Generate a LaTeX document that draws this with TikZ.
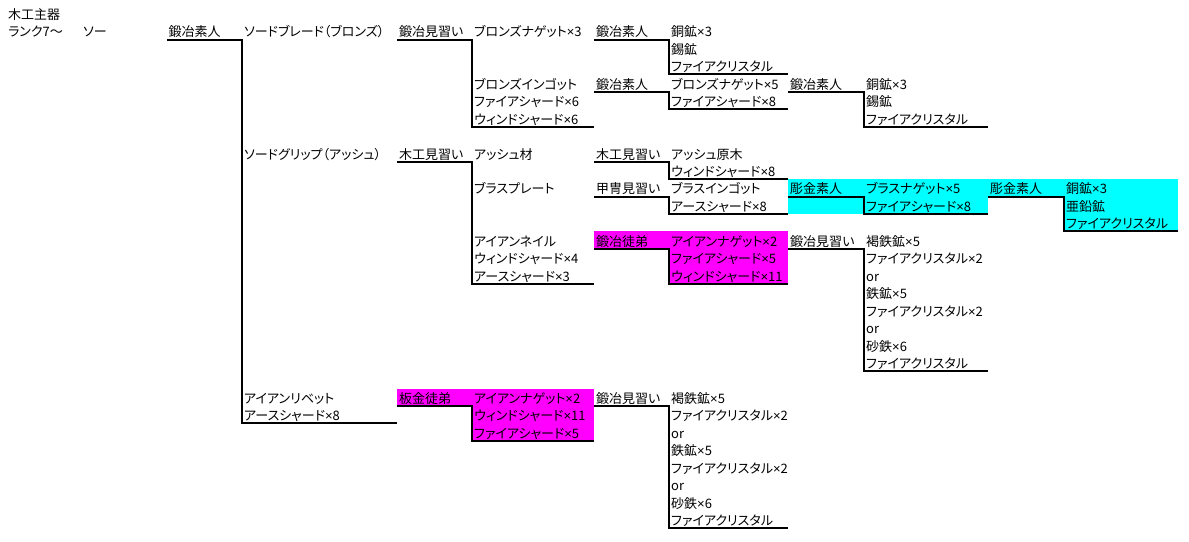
\documentclass[tikz,border=0pt]{standalone}
\usepackage{fontspec}
\setmainfont{Noto Sans CJK JP}[RawFeature={+palt}]
\newfontfamily\latinfont{Liberation Sans}
\newcommand\tms{{\latinfont ×}}
\definecolor{cellcyan}{HTML}{00FFFF}
\definecolor{cellmagenta}{HTML}{FF00FF}
\def\colA{6}\def\colB{81}\def\colC{166.5}\def\colD{242}\def\colE{397}\def\colF{472}
\def\colG{594}\def\colH{669}\def\colI{788}\def\colJ{864}\def\colK{988}\def\colL{1064}\def\colM{1178}
% bottom of spreadsheet row #1 : 39.5+(#1-2)*17.45
\newcommand\cellnode[4]{\node[txt] (#1) at ({#2+2},{39.5+(#3-2)*17.45-2.6}) {#4};}
\newcommand\bracketline[5]{\draw[conn] ({#1},{39.5+(#2-2)*17.45}) -- ({#3},{39.5+(#2-2)*17.45}) -- ({#3},{39.5+(#4-2)*17.45}) -- ({#5},{39.5+(#4-2)*17.45});}
\newcommand\cellfill[5]{\fill[#1] ({#2},{39.5+(#3-3)*17.45}) rectangle ({#4},{39.5+(#5-2)*17.45});}
\begin{document}
\begin{tikzpicture}[x=1pt,y=-1pt,
  txt/.style={anchor=base west,inner sep=0pt,font=\fontsize{13}{15}\selectfont},
  conn/.style={line width=2pt,line join=miter,line cap=butt}]
\useasboundingbox[fill=white] (0,0) rectangle (1189,541);
% fills
\cellfill{cellcyan}{\colI}{11}{\colK}{12}
\cellfill{cellcyan}{\colK}{11}{\colM}{11}
\cellfill{cellcyan}{\colL}{12}{\colM}{13}
\cellfill{cellmagenta}{\colG}{14}{\colI}{14}
\cellfill{cellmagenta}{\colH}{15}{\colI}{16}
\cellfill{cellmagenta}{\colE}{23}{\colG}{23}
\cellfill{cellmagenta}{\colF}{24}{\colG}{25}
% connectors
\bracketline{\colC}{2}{\colD}{24}{\colE}
\bracketline{\colE}{2}{\colF}{7}{\colG}
\bracketline{\colG}{2}{\colH}{4}{\colI}
\bracketline{\colG}{5}{\colH}{6}{\colI}
\bracketline{\colI}{5}{\colJ}{7}{\colK}
\bracketline{\colE}{9}{\colF}{16}{\colG}
\bracketline{\colG}{9}{\colH}{10}{\colI}
\bracketline{\colG}{11}{\colH}{12}{\colI}
\bracketline{\colI}{11}{\colJ}{12}{\colK}
\bracketline{\colK}{11}{\colL}{13}{\colM}
\bracketline{\colG}{14}{\colH}{16}{\colI}
\bracketline{\colI}{14}{\colJ}{21}{\colK}
\bracketline{\colE}{23}{\colF}{25}{\colG}
\bracketline{\colG}{23}{\colH}{30}{\colI}
% texts
\cellnode{a1}{\colA}{1}{木工主器}
\cellnode{a2}{\colA}{2}{ランク7～}
\cellnode{b2}{\colB}{2}{ソー}
\cellnode{c2}{\colC}{2}{鍛冶素人}
\cellnode{d2}{\colD}{2}{ソードブレード（ブロンズ）}
\cellnode{e2}{\colE}{2}{鍛冶見習い}
\cellnode{f2}{\colF}{2}{ブロンズナゲット\tms 3}
\cellnode{g2}{\colG}{2}{鍛冶素人}
\cellnode{h2}{\colH}{2}{銅鉱\tms 3}
\cellnode{h3}{\colH}{3}{錫鉱}
\cellnode{h4}{\colH}{4}{ファイアクリスタル}
\cellnode{f5}{\colF}{5}{ブロンズインゴット}
\cellnode{g5}{\colG}{5}{鍛冶素人}
\cellnode{h5}{\colH}{5}{ブロンズナゲット\tms 5}
\cellnode{i5}{\colI}{5}{鍛冶素人}
\cellnode{j5}{\colJ}{5}{銅鉱\tms 3}
\cellnode{f6}{\colF}{6}{ファイアシャード\tms 6}
\cellnode{h6}{\colH}{6}{ファイアシャード\tms 8}
\cellnode{j6}{\colJ}{6}{錫鉱}
\cellnode{f7}{\colF}{7}{ウィンドシャード\tms 6}
\cellnode{j7}{\colJ}{7}{ファイアクリスタル}
\cellnode{d9}{\colD}{9}{ソードグリップ（アッシュ）}
\cellnode{e9}{\colE}{9}{木工見習い}
\cellnode{f9}{\colF}{9}{アッシュ材}
\cellnode{g9}{\colG}{9}{木工見習い}
\cellnode{h9}{\colH}{9}{アッシュ原木}
\cellnode{h10}{\colH}{10}{ウィンドシャード\tms 8}
\cellnode{f11}{\colF}{11}{ブラスプレート}
\cellnode{g11}{\colG}{11}{甲冑見習い}
\cellnode{h11}{\colH}{11}{ブラスインゴット}
\cellnode{i11}{\colI}{11}{彫金素人}
\cellnode{j11}{\colJ}{11}{ブラスナゲット\tms 5}
\cellnode{k11}{\colK}{11}{彫金素人}
\cellnode{l11}{\colL}{11}{銅鉱\tms 3}
\cellnode{h12}{\colH}{12}{アースシャード\tms 8}
\cellnode{j12}{\colJ}{12}{ファイアシャード\tms 8}
\cellnode{l12}{\colL}{12}{亜鉛鉱}
\cellnode{l13}{\colL}{13}{ファイアクリスタル}
\cellnode{f14}{\colF}{14}{アイアンネイル}
\cellnode{g14}{\colG}{14}{鍛冶徒弟}
\cellnode{h14}{\colH}{14}{アイアンナゲット\tms 2}
\cellnode{i14}{\colI}{14}{鍛冶見習い}
\cellnode{j14}{\colJ}{14}{褐鉄鉱\tms 5}
\cellnode{f15}{\colF}{15}{ウィンドシャード\tms 4}
\cellnode{h15}{\colH}{15}{ファイアシャード\tms 5}
\cellnode{j15}{\colJ}{15}{ファイアクリスタル\tms 2}
\cellnode{f16}{\colF}{16}{アースシャード\tms 3}
\cellnode{h16}{\colH}{16}{ウィンドシャード\tms 11}
\cellnode{j16}{\colJ}{16}{or}
\cellnode{j17}{\colJ}{17}{鉄鉱\tms 5}
\cellnode{j18}{\colJ}{18}{ファイアクリスタル\tms 2}
\cellnode{j19}{\colJ}{19}{or}
\cellnode{j20}{\colJ}{20}{砂鉄\tms 6}
\cellnode{j21}{\colJ}{21}{ファイアクリスタル}
\cellnode{d23}{\colD}{23}{アイアンリベット}
\cellnode{e23}{\colE}{23}{板金徒弟}
\cellnode{f23}{\colF}{23}{アイアンナゲット\tms 2}
\cellnode{g23}{\colG}{23}{鍛冶見習い}
\cellnode{h23}{\colH}{23}{褐鉄鉱\tms 5}
\cellnode{d24}{\colD}{24}{アースシャード\tms 8}
\cellnode{f24}{\colF}{24}{ウィンドシャード\tms 11}
\cellnode{h24}{\colH}{24}{ファイアクリスタル\tms 2}
\cellnode{f25}{\colF}{25}{ファイアシャード\tms 5}
\cellnode{h25}{\colH}{25}{or}
\cellnode{h26}{\colH}{26}{鉄鉱\tms 5}
\cellnode{h27}{\colH}{27}{ファイアクリスタル\tms 2}
\cellnode{h28}{\colH}{28}{or}
\cellnode{h29}{\colH}{29}{砂鉄\tms 6}
\cellnode{h30}{\colH}{30}{ファイアクリスタル}
\end{tikzpicture}
\end{document}
